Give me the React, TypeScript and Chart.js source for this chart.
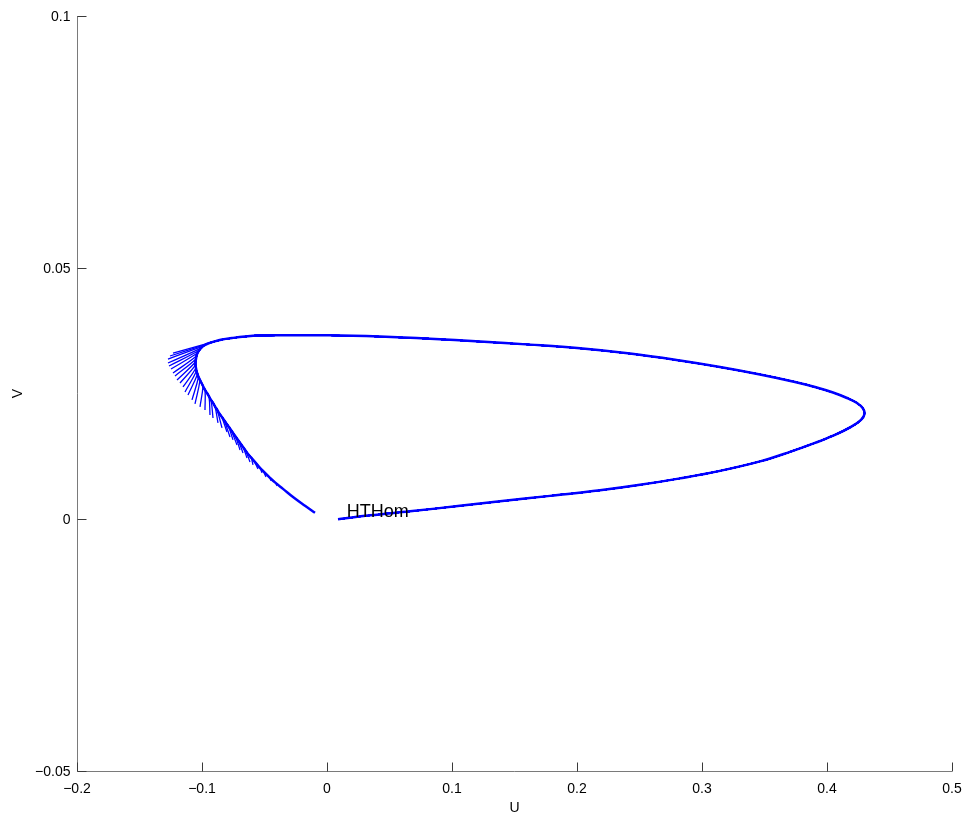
import React, { useEffect, useRef } from "react";
import { Chart, registerables } from "chart.js";

Chart.register(...registerables);

// Common orbit path (U, V) shared by all members of the family
const commonU = [
  0.0088, 0.0344, 0.0664, 0.1064, 0.1384, 0.1784,
  0.2184, 0.2504, 0.2824, 0.3144, 0.3464, 0.3704, 0.3904, 0.4064, 0.4192, 0.4272,
  0.43, 0.4288, 0.424, 0.416, 0.4048, 0.3904, 0.3744, 0.3464, 0.3144, 0.2824,
  0.2424, 0.2024, 0.1624, 0.1224, 0.0824, 0.0424, 0.0024,
  -0.0376, -0.0536, -0.0656, -0.076, -0.084, -0.0904, -0.0952, -0.0984,
  -0.1008, -0.1024, -0.1036, -0.1044, -0.1048, -0.1052, -0.1052, -0.1048, -0.1044, -0.1036,
  -0.1028, -0.1016, -0.1004, -0.0992, -0.0976, -0.096, -0.0944, -0.0928, -0.0912, -0.0896,
  -0.088, -0.0864, -0.0844, -0.0824, -0.0808, -0.0788, -0.0768, -0.0752, -0.0732, -0.0712,
  -0.0692, -0.0672, -0.0652, -0.0632, -0.0608, -0.0584, -0.056, -0.0536, -0.0512, -0.0484,
  -0.0456, -0.0416, -0.0352, -0.0264, -0.0176, -0.0096,
];
const commonV = [
  0.0, 0.00079, 0.00159, 0.00268, 0.00357, 0.00466,
  0.00576, 0.00685, 0.00814, 0.00963, 0.01151, 0.0134, 0.01518, 0.01677, 0.01836, 0.01975,
  0.02094, 0.02203, 0.02312, 0.02411, 0.0252, 0.02629, 0.02729, 0.02878, 0.03026, 0.03155,
  0.03294, 0.03398, 0.03471, 0.03532, 0.03588, 0.0363, 0.03655,
  0.03657, 0.03652, 0.03632, 0.03602, 0.03572, 0.03532, 0.03493, 0.03453,
  0.03403, 0.03354, 0.03304, 0.03245, 0.03185, 0.03126, 0.03066, 0.03007, 0.02947, 0.02888,
  0.02828, 0.02768, 0.02709, 0.0265, 0.0257, 0.0251, 0.02441, 0.02372, 0.02312, 0.02243,
  0.02183, 0.02113, 0.02044, 0.01975, 0.01915, 0.01846, 0.01776, 0.01717, 0.01647, 0.01578,
  0.01508, 0.01439, 0.01369, 0.013, 0.0123, 0.01161, 0.01091, 0.01022, 0.00962, 0.00893,
  0.00824, 0.00734, 0.00605, 0.00427, 0.00268, 0.00129,
];

// Each member follows the common path for cutCounts[k] points, then ends at its tip
const cutCounts = [
  39, 40, 41, 42, 43, 44, 45, 46, 47, 48, 49, 50, 51, 52, 53, 55, 56, 58, 59, 61,
  62, 64, 65, 67, 68, 70, 71, 73, 74, 76, 77, 79, 80, 82, 83,
];
const tipU = [
  -0.1232, -0.1256, -0.1272, -0.1272, -0.1264, -0.1248, -0.1232, -0.1216, -0.12, -0.1176,
  -0.1152, -0.1136, -0.1112, -0.108, -0.1056, -0.1016, -0.0976, -0.0936, -0.0912, -0.0872,
  -0.084, -0.08, -0.0776, -0.0752, -0.072, -0.0696, -0.0672, -0.064, -0.0616, -0.0592,
  -0.0552, -0.052, -0.0488, -0.0448, -0.04,
];
const tipV = [
  0.03304, 0.03245, 0.03185, 0.03106, 0.03047, 0.02987, 0.02907, 0.02848, 0.02768, 0.02709,
  0.0263, 0.02531, 0.02471, 0.02372, 0.02293, 0.02233, 0.02173, 0.02074, 0.02014, 0.01915,
  0.01816, 0.01736, 0.01637, 0.01578, 0.01478, 0.01379, 0.0132, 0.0122, 0.01141, 0.01082,
  0.01002, 0.00923, 0.00843, 0.00764, 0.00665,
];

const xTicks = [-0.2, -0.1, 0, 0.1, 0.2, 0.3, 0.4, 0.5];
const xTickLabels = ["\u22120.2", "\u22120.1", "0", "0.1", "0.2", "0.3", "0.4", "0.5"];
const yTicks = [-0.05, 0, 0.05, 0.1];
const yTickLabels = ["\u22120.05", "0", "0.05", "0.1"];
const xTitle = "U";
const yTitle = "V";
const annotation = { text: "HTHom", u: 0.0158, v: 0.0005 };

const FONT = '"Liberation Sans", Arial, Helvetica, sans-serif';

const axesPlugin = {
  id: "matlabAxes",
  afterDatasetsDraw(chart: any) {
    const { ctx, chartArea, scales } = chart;
    const xs = scales.x;
    const ys = scales.y;
    const L = Math.round(chartArea.left) + 0.5;
    const B = Math.round(chartArea.bottom) + 0.5;
    const T = Math.round(chartArea.top);
    const R = Math.round(chartArea.right);
    ctx.save();
    // annotation text
    ctx.fillStyle = "#000";
    ctx.font = `18px ${FONT}`;
    ctx.textAlign = "left";
    ctx.textBaseline = "alphabetic";
    ctx.fillText(annotation.text, xs.getPixelForValue(annotation.u), ys.getPixelForValue(annotation.v));

    // axis lines
    ctx.strokeStyle = "#7a7a7a";
    ctx.lineWidth = 1;
    ctx.beginPath();
    ctx.moveTo(L, T);
    ctx.lineTo(L, B);
    ctx.lineTo(R, B);
    ctx.stroke();

    // inward ticks
    ctx.strokeStyle = "#3a3a3a";
    ctx.beginPath();
    xTicks.forEach((t) => {
      const px = Math.round(xs.getPixelForValue(t)) + 0.5;
      ctx.moveTo(px, B);
      ctx.lineTo(px, B - 9);
    });
    yTicks.forEach((t) => {
      const py = Math.round(ys.getPixelForValue(t)) + 0.5;
      ctx.moveTo(L, py);
      ctx.lineTo(L + 9, py);
    });
    ctx.stroke();

    // tick labels
    ctx.fillStyle = "#000";
    ctx.font = `14px ${FONT}`;
    ctx.textAlign = "center";
    ctx.textBaseline = "alphabetic";
    xTicks.forEach((t, i) => {
      ctx.fillText(xTickLabels[i], xs.getPixelForValue(t), B + 21);
    });
    ctx.textAlign = "right";
    yTicks.forEach((t, i) => {
      ctx.fillText(yTickLabels[i], L - 7, ys.getPixelForValue(t) + 5);
    });

    // axis titles
    ctx.textAlign = "center";
    ctx.fillText(xTitle, (chartArea.left + chartArea.right) / 2, B + 40);
    ctx.save();
    ctx.translate(22, (chartArea.top + chartArea.bottom) / 2);
    ctx.rotate(-Math.PI / 2);
    ctx.fillText(yTitle, 0, 0);
    ctx.restore();
    ctx.restore();
  },
};

export default function App() {
  const ref = useRef<HTMLCanvasElement | null>(null);

  useEffect(() => {
    if (!ref.current) return;
    const full = commonU.map((u, i) => ({ x: u, y: commonV[i] }));
    const datasets: any[] = cutCounts.map((c, k) => ({
      data: [...full.slice(0, c), { x: tipU[k], y: tipV[k] }],
      borderColor: "#0000ff",
      borderWidth: 1.3,
      showLine: true,
      pointRadius: 0,
      tension: 0.4,
      fill: false,
    }));
    datasets.push({
      data: full,
      borderColor: "#0000ff",
      borderWidth: 2.5,
      showLine: true,
      pointRadius: 0,
      tension: 0.4,
      fill: false,
    });

    const chart = new Chart(ref.current, {
      type: "scatter",
      data: { datasets },
      options: {
        animation: false,
        responsive: false,
        maintainAspectRatio: false,
        layout: { padding: { left: 77, right: 15, top: 16, bottom: 44 } },
        plugins: { legend: { display: false }, tooltip: { enabled: false } },
        scales: {
          x: {
            type: "linear",
            min: -0.2,
            max: 0.5,
            grid: { display: false },
            border: { display: false },
            ticks: { display: false },
            afterFit: (s: any) => {
              s.height = 0;
            },
          },
          y: {
            type: "linear",
            min: -0.05,
            max: 0.1,
            grid: { display: false },
            border: { display: false },
            ticks: { display: false },
            afterFit: (s: any) => {
              s.width = 0;
            },
          },
        },
      },
      plugins: [axesPlugin],
    });
    return () => chart.destroy();
  }, []);

  return (
    <div style={{ position: "absolute", left: 0, top: 0, width: 967, height: 815, background: "#fff" }}>
      <canvas ref={ref} width={967} height={815} style={{ display: "block" }} />
    </div>
  );
}
